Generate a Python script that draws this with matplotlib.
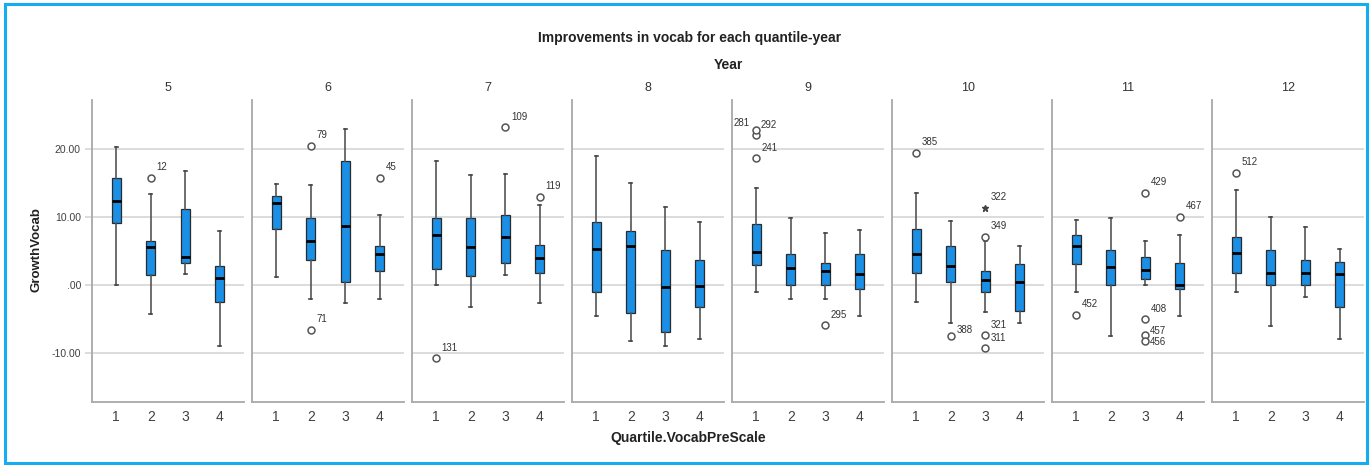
import numpy as np
import matplotlib
matplotlib.use('Agg')
import matplotlib.pyplot as plt
from matplotlib.patches import Rectangle

plt.rcParams['font.family'] = ['Liberation Sans', 'DejaVu Sans']

# data
years = [5, 6, 7, 8, 9, 10, 11, 12]
quartiles = [1, 2, 3, 4]
ytick_vals = [-10, 0, 10, 20]
ytick_labels = ['-10.00', '.00', '10.00', '20.00']

whis_lo = [[0.0, -4.2, 1.6, -9.0],
           [1.2, -2.1, -2.7, -2.0],
           [0.0, -3.3, 1.4, -2.6],
           [-4.6, -8.2, -9.0, -7.9],
           [-1.0, -2.0, -2.05, -4.5],
           [-2.5, -5.55, -4.0, -5.55],
           [-1.0, -7.5, 0.0, -4.5],
           [-1.0, -6.0, -1.7, -8.0]]
q1 = [[9.1, 1.5, 3.3, -2.5],
      [8.2, 3.7, 0.5, 2.1],
      [2.4, 1.3, 3.2, 1.8],
      [-1.1, -4.1, -6.9, -3.2],
      [2.95, 0.0, 0.0, -0.6],
      [1.7, 0.5, -1.0, -3.8],
      [3.1, 0.0, 0.85, -0.6],
      [1.7, 0.0, 0.0, -3.3]]
med = [[12.3, 5.55, 4.1, 1.1],
       [12.0, 6.4, 8.7, 4.5],
       [7.3, 5.65, 7.0, 4.0],
       [5.3, 5.7, -0.25, -0.1],
       [4.9, 2.55, 2.05, 1.6],
       [4.5, 2.8, 0.7, 0.4],
       [5.7, 2.7, 2.15, 0.05],
       [4.7, 1.8, 1.8, 1.6]]
q3 = [[15.7, 6.5, 11.2, 2.8],
      [13.1, 9.9, 18.3, 5.75],
      [9.8, 9.9, 10.3, 5.85],
      [9.3, 8.0, 5.1, 3.7],
      [8.9, 4.6, 3.3, 4.5],
      [8.2, 5.8, 2.0, 3.1],
      [7.4, 5.2, 4.1, 3.25],
      [7.0, 5.1, 3.7, 3.4]]
whis_hi = [[20.3, 13.4, 16.7, 7.9],
           [14.8, 14.7, 22.9, 10.3],
           [18.3, 16.2, 16.3, 11.7],
           [19.0, 15.0, 11.5, 9.2],
           [14.2, 9.9, 7.7, 8.05],
           [13.5, 9.4, 6.5, 5.8],
           [9.5, 9.9, 6.4, 7.3],
           [14.0, 10.0, 8.55, 5.35]]

# outliers: year, quartile, value, case label
out_year = [5, 6, 6, 6, 7, 7, 7, 9, 9, 9, 9, 10, 10, 10, 10, 10, 10, 11, 11, 11, 11, 11, 11, 12]
out_q = [2, 2, 2, 4, 1, 3, 4, 1, 1, 1, 3, 1, 2, 3, 3, 3, 3, 1, 3, 3, 3, 3, 4, 1]
out_val = [15.8, 20.5, -6.6, 15.8, -10.8, 23.2, 13.0, 22.0, 22.75, 18.6, -5.9,
           19.4, -7.5, 7.1, 11.35, -7.3, -9.2, -4.4, 13.6, -5.05, -7.3, -8.3, 10.0, 16.5]
out_lab = ['12', '79', '71', '45', '131', '109', '119', '281', '292', '241', '295',
           '385', '388', '349', '322', '321', '311', '452', '429', '408', '457', '456', '467', '512']
out_star = ['322']  # extreme value drawn as a star

# label offsets in points where the default would collide
lab_offset = {'281': (-5, 5, 'right'), '292': (3, 0, 'left'),
              '457': (3, -1, 'left'), '456': (3, -4, 'left'),
              '388': (4, 1, 'left'), '311': (4, 3, 'left'), '321': (4, 3, 'left')}

W, H = 1372, 465
fig = plt.figure(figsize=(W / 100, H / 100), dpi=100)
fig.patches.append(Rectangle((5 / W, 2 / H), 1362 / W, 1 - 6 / H, transform=fig.transFigure,
                             fill=False, edgecolor='#14aef0', linewidth=2.2))

box_color = '#1a8fe6'
grid_color = '#d6d6d6'
spine_color = '#a8a8a8'

ax_bottom = (H - 402) / H
ax_height = (402 - 100) / H
for i, yr in enumerate(years):
    left = (92 + i * 160) / W
    ax = fig.add_axes([left, ax_bottom, 152 / W, ax_height])
    stats = []
    for j, q in enumerate(quartiles):
        stats.append(dict(whislo=whis_lo[i][j], q1=q1[i][j], med=med[i][j],
                          q3=q3[i][j], whishi=whis_hi[i][j], fliers=[]))
    ax.bxp(stats, positions=quartiles, widths=0.27, capwidths=0.09, patch_artist=True,
           showfliers=False,
           boxprops=dict(facecolor=box_color, edgecolor='#2b2b2b', linewidth=0.9),
           medianprops=dict(color='black', linewidth=2),
           whiskerprops=dict(color='#555555', linewidth=1.2),
           capprops=dict(color='#444444', linewidth=1.2))

    for y, q, v, lab in zip(out_year, out_q, out_val, out_lab):
        if y != yr:
            continue
        if lab in out_star:
            ax.plot(q, v, marker='*', color='#444444', markersize=5, zorder=5)
        else:
            ax.plot(q, v, marker='o', mfc='white', mec='#555555', markersize=5,
                    mew=1.1, zorder=5)
        dx, dy, ha = lab_offset.get(lab, (4, 4, 'left'))
        ax.annotate(lab, (q, v), xytext=(dx, dy), textcoords='offset points',
                    ha=ha, va='bottom', fontsize=7, color='#333333')

    ax.set_xlim(0.3, 4.7)
    ax.set_ylim(-17.2, 27.2)
    ax.set_xticks(quartiles)
    ax.set_xticklabels([str(q) for q in quartiles], fontsize=10, color='#404040')
    ax.tick_params(axis='x', length=0, pad=6)
    ax.set_yticks(ytick_vals)
    ax.yaxis.grid(True, color=grid_color, linewidth=1.2)
    ax.set_axisbelow(True)
    for s in ['top', 'right']:
        ax.spines[s].set_visible(False)
    for s in ['left', 'bottom']:
        ax.spines[s].set_color(spine_color)
        ax.spines[s].set_linewidth(1.3)
    if i == 0:
        ax.set_yticklabels(ytick_labels, fontsize=7.5, color='#404040')
        ax.tick_params(axis='y', length=5, color=grid_color, width=1.2, pad=3)
    else:
        ax.set_yticklabels([])
        ax.tick_params(axis='y', length=0)
    fig.text(left + 76 / W, 1 - 88 / H, str(yr), ha='center', va='center',
             fontsize=9, color='#333333')

fig.text(690 / W, 1 - 38 / H, 'Improvements in vocab for each quantile-year', ha='center',
         va='center', fontsize=10, fontweight='bold', color='#222222')
fig.text(728 / W, 1 - 65 / H, 'Year', ha='center', va='center', fontsize=10,
         fontweight='bold', color='#222222')
fig.text(688 / W, 1 - 438 / H, 'Quartile.VocabPreScale', ha='center', va='center',
         fontsize=10, fontweight='bold', color='#222222')
fig.text(36 / W, 1 - 250 / H, 'GrowthVocab', ha='center', va='center', rotation=90,
         fontsize=9.5, fontweight='bold', color='#222222')

fig.savefig('out.png', dpi=100)
